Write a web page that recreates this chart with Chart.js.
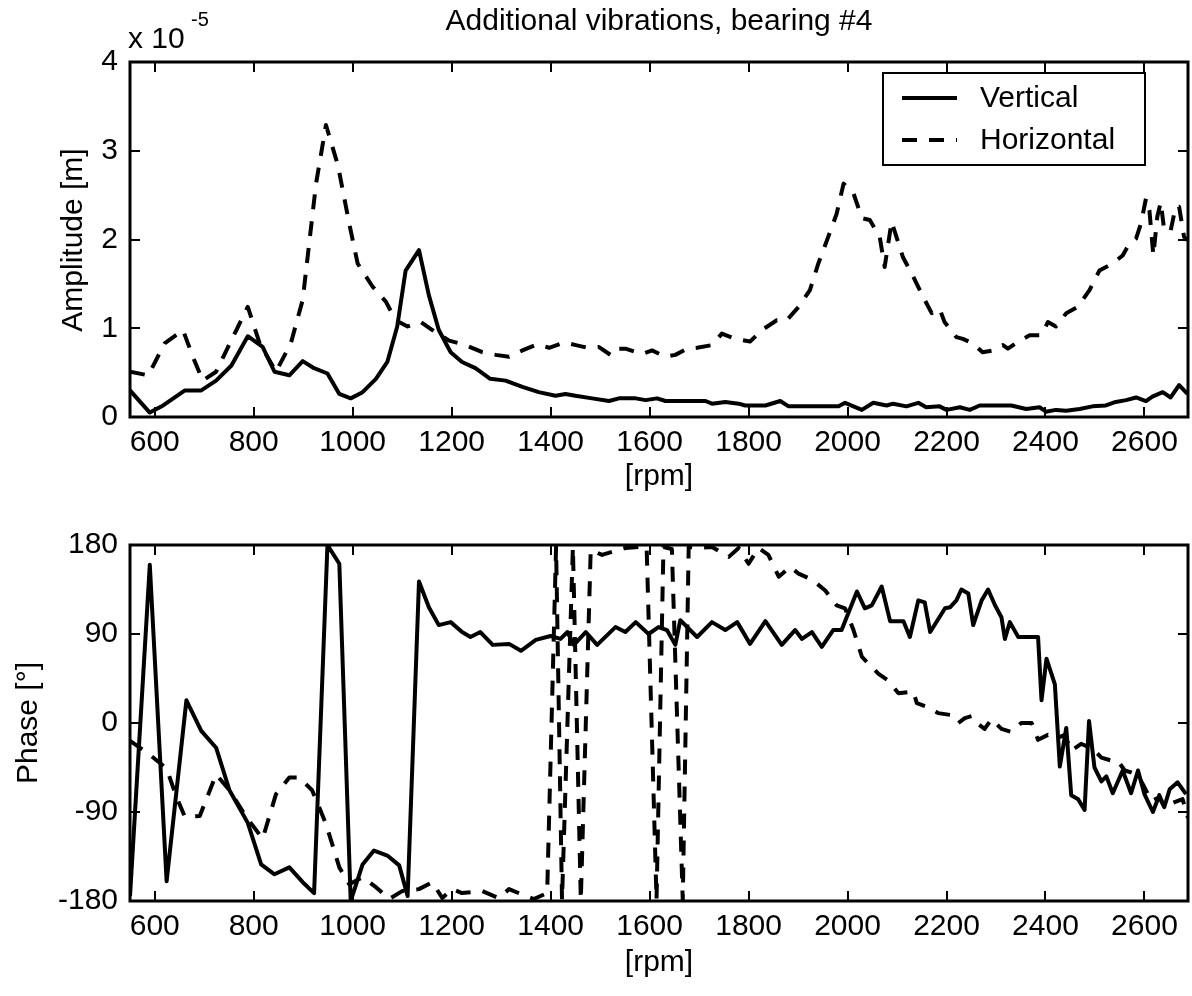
<!DOCTYPE html>
<html>
<head>
<title>Additional vibrations, bearing #4</title>
<script src="https://cdn.jsdelivr.net/npm/chart.js"></script>
<style>
  body { margin: 0; background: #fff; }
  canvas { position: absolute; left: 0; }
</style>
</head>
<body>
<canvas id="ampChart" width="1192" height="498" style="top:0"></canvas>
<canvas id="phaseChart" width="1192" height="498" style="top:498px"></canvas>
<script>
// axis ticks
const rpmTicks = [600, 800, 1000, 1200, 1400, 1600, 1800, 2000, 2200, 2400, 2600];
const ampTicks = [0, 1, 2, 3, 4];            // x 10^-5 m
const phaseTicks = [-180, -90, 0, 90, 180];

// amplitude, vertical (x 10^-5 m)
const vRpmTop = [550,590,617,661,694,724,755,788,818,842,
  872,899,922,949,973,996,1020,1047,1070,1090,
  1107,1134,1154,1174,1198,1221,1248,1278,1309,1343,
  1376,1410,1430,1450,1484,1518,1538,1572,1592,1615,
  1632,1659,1713,1726,1753,1780,1793,1834,1864,1881,
  1982,1995,2029,2052,2079,2092,2119,2143,2159,2186,
  2200,2227,2247,2267,2294,2331,2361,2388,2401,2421,
  2442,2469,2495,2522,2542,2563,2583,2603,2616,2637,
  2653,2670,2687];
const vAmp = [0.30,0.05,0.13,0.30,0.30,0.41,0.58,0.91,0.79,0.51,
  0.47,0.63,0.55,0.49,0.26,0.21,0.28,0.43,0.62,1.02,
  1.65,1.88,1.37,0.98,0.73,0.62,0.55,0.43,0.41,0.34,
  0.28,0.24,0.26,0.24,0.21,0.18,0.21,0.21,0.19,0.21,
  0.18,0.18,0.18,0.15,0.17,0.15,0.13,0.13,0.18,0.12,
  0.12,0.16,0.08,0.16,0.13,0.15,0.12,0.16,0.11,0.12,
  0.08,0.11,0.08,0.13,0.13,0.13,0.09,0.11,0.06,0.08,
  0.07,0.09,0.12,0.13,0.17,0.19,0.22,0.18,0.23,0.28,
  0.22,0.36,0.26];

// amplitude, horizontal
const hRpmTop = [550,587,620,657,677,697,724,765,788,812,
  845,875,899,926,946,970,993,1010,1040,1067,
  1087,1111,1138,1161,1195,1228,1262,1289,1316,1343,
  1373,1397,1427,1451,1474,1497,1521,1531,1551,1585,
  1605,1632,1652,1676,1696,1726,1746,1773,1803,1827,
  1857,1877,1901,1924,1941,1961,1978,1992,2012,2029,
  2045,2065,2075,2089,2112,2133,2153,2170,2186,2196,
  2220,2233,2253,2273,2294,2314,2324,2348,2368,2391,
  2405,2421,2442,2465,2489,2509,2536,2556,2566,2583,
  2593,2603,2610,2618,2626,2633,2640,2653,2663,2670,
  2680,2687];
const hAmp = [0.51,0.47,0.83,0.98,0.68,0.41,0.51,0.98,1.24,0.83,
  0.51,0.83,1.32,2.63,3.29,2.84,2.18,1.73,1.47,1.30,
  1.09,1.02,1.07,0.98,0.86,0.81,0.73,0.70,0.68,0.75,
  0.82,0.78,0.84,0.81,0.78,0.79,0.70,0.77,0.77,0.71,
  0.75,0.68,0.70,0.77,0.78,0.81,0.94,0.88,0.85,0.98,
  1.09,1.09,1.24,1.43,1.73,2.03,2.29,2.63,2.52,2.24,
  2.22,2.03,1.69,2.20,1.80,1.58,1.35,1.17,1.22,1.07,
  0.90,0.88,0.83,0.73,0.75,0.81,0.77,0.86,0.92,0.92,
  1.07,1.02,1.17,1.24,1.43,1.65,1.73,1.82,1.92,2.01,
  2.18,2.46,2.33,1.82,2.26,2.42,2.10,2.10,2.37,2.37,
  2.03,1.99];

// phase, vertical (deg)
const vRpmBot = [550,590,624,664,694,724,751,788,815,842,
  872,899,922,949,973,996,1020,1043,1070,1094,
  1111,1134,1154,1174,1198,1221,1238,1258,1283,1316,
  1340,1370,1400,1420,1434,1447,1471,1494,1531,1551,
  1572,1598,1618,1635,1652,1662,1696,1726,1753,1777,
  1803,1834,1867,1894,1908,1928,1948,1971,1988,2019,
  2035,2049,2069,2086,2113,2126,2143,2156,2167,2197,
  2207,2220,2230,2244,2254,2271,2284,2298,2311,2318,
  2328,2345,2385,2392,2402,2419,2429,2442,2452,2466,
  2479,2488,2499,2513,2523,2536,2556,2573,2587,2600,
  2617,2630,2640,2651,2667,2684];
const vPhase = [-175,160,-160,23,-8,-25,-68,-101,-143,-153,
  -146,-161,-172,180,161,-180,-143,-129,-134,-144,
  -175,143,117,99,102,92,87,92,79,80,
  73,84,88,85,92,79,92,79,97,92,
  102,90,97,94,79,104,87,102,94,102,
  80,103,79,94,85,92,77,94,94,133,
  116,119,138,103,103,87,124,122,92,116,
  117,124,135,131,99,124,135,119,107,85,
  102,87,87,23,65,39,-44,-5,-73,-77,
  -88,2,-45,-59,-54,-71,-48,-71,-48,-72,
  -90,-73,-85,-67,-60,-72];

// phase, horizontal
const hRpmBot = [550,587,624,644,661,691,724,751,785,818,
  845,872,892,918,946,973,993,1020,1047,1074,
  1100,1134,1161,1181,1201,1221,1262,1295,1316,1340,
  1366,1393,1411,1423,1445,1461,1481,1504,1524,1551,
  1578,1594,1614,1628,1645,1667,1679,1699,1726,1760,
  1780,1800,1820,1840,1861,1884,1901,1928,1955,1978,
  1995,2012,2029,2042,2062,2082,2103,2133,2140,2163,
  2183,2210,2224,2237,2251,2261,2277,2291,2311,2331,
  2351,2372,2385,2405,2425,2439,2452,2472,2486,2499,
  2513,2533,2546,2560,2573,2587,2600,2614,2630,2640,
  2661,2677,2688];
const hPhase = [-18,-31,-46,-75,-95,-94,-52,-68,-95,-117,
  -72,-55,-55,-68,-102,-146,-163,-156,-166,-178,
  -170,-168,-161,-177,-168,-172,-170,-177,-168,-173,
  -178,-172,178,-179,178,-179,175,170,173,177,
  178,178,-179,178,176,-179,178,177,178,168,
  177,161,177,170,148,158,151,145,134,119,
  116,94,67,60,50,43,30,32,20,16,
  10,8,0,5,7,0,-6,4,-6,-9,
  0,0,-17,-12,-15,-12,-28,-21,-24,-28,
  -35,-38,-38,-48,-50,-53,-65,-79,-75,-85,
  -80,-77,-96];

const FONT = "Arial, 'Liberation Sans', Helvetica, sans-serif";
const DASH = [15, 12];

function pts(xs, ys) {
  return xs.map((x, i) => ({ x: x, y: ys[i] }));
}

function lineSet(label, xs, ys, dashed) {
  return {
    label: label,
    data: pts(xs, ys),
    borderColor: '#000',
    borderWidth: 4,
    borderDash: dashed ? DASH : [],
    borderJoinStyle: 'round',
    pointRadius: 0,
    tension: 0,
    fill: false
  };
}

// box, inward ticks, labels, legend (matlab look)
const frame = {
  id: 'frame',
  afterDraw(chart, args, opts) {
    const ctx = chart.ctx, a = chart.chartArea;
    const xs = chart.scales.x, ys = chart.scales.y;
    ctx.save();
    ctx.strokeStyle = '#000';
    ctx.lineWidth = 2;
    ctx.beginPath();
    xs.ticks.forEach(t => {
      const px = Math.round(xs.getPixelForValue(t.value));
      ctx.moveTo(px, a.bottom); ctx.lineTo(px, a.bottom - 10);
      ctx.moveTo(px, a.top); ctx.lineTo(px, a.top + 10);
    });
    ys.ticks.forEach(t => {
      const py = Math.round(ys.getPixelForValue(t.value));
      ctx.moveTo(a.left, py); ctx.lineTo(a.left + 10, py);
      ctx.moveTo(a.right, py); ctx.lineTo(a.right - 10, py);
    });
    ctx.stroke();
    ctx.lineWidth = 3;
    ctx.strokeRect(a.left, a.top, a.right - a.left, a.bottom - a.top);

    ctx.fillStyle = '#000';
    (opts.texts || []).forEach(t => {
      ctx.save();
      ctx.font = (t.size || 30) + 'px ' + FONT;
      ctx.textAlign = t.align || 'center';
      ctx.textBaseline = t.base || 'middle';
      ctx.translate(t.x, t.y);
      if (t.rot) ctx.rotate(t.rot);
      ctx.fillText(t.text, 0, 0);
      ctx.restore();
    });

    if (opts.legend) {
      const L = opts.legend;
      ctx.fillStyle = '#fff';
      ctx.fillRect(L.x, L.y, L.w, L.h);
      ctx.lineWidth = 2;
      ctx.strokeRect(L.x, L.y, L.w, L.h);
      chart.data.datasets.forEach((ds, i) => {
        const y = L.y + 25 + i * 42;
        ctx.beginPath();
        ctx.lineWidth = ds.borderWidth;
        ctx.setLineDash(ds.borderDash);
        ctx.moveTo(L.x + 19, y);
        ctx.lineTo(L.x + 74, y);
        ctx.stroke();
        ctx.setLineDash([]);
        ctx.fillStyle = '#000';
        ctx.font = '30px ' + FONT;
        ctx.textAlign = 'left';
        ctx.textBaseline = 'middle';
        ctx.fillText(ds.label, L.x + 97, y + 1);
      });
    }
    ctx.restore();
  }
};

function makeChart(id, datasets, yMin, yMax, yTicks, padTop, xAxisH, texts, legend) {
  return new Chart(document.getElementById(id), {
    type: 'line',
    data: { datasets: datasets },
    plugins: [frame],
    options: {
      responsive: false,
      animation: false,
      devicePixelRatio: 1,
      layout: { padding: { left: 0, right: 4, top: padTop, bottom: 0 } },
      plugins: {
        legend: { display: false },
        title: { display: false },
        tooltip: { enabled: false },
        frame: { texts: texts, legend: legend }
      },
      scales: {
        x: {
          type: 'linear',
          min: 550,
          max: 2688,
          afterBuildTicks: s => { s.ticks = rpmTicks.map(v => ({ value: v })); },
          afterFit: s => { s.height = xAxisH; },
          grid: { display: false, drawTicks: false },
          border: { display: false },
          ticks: {
            autoSkip: false, maxRotation: 0, padding: 8, color: '#000',
            font: { family: FONT, size: 30 },
            callback: v => String(v)
          }
        },
        y: {
          type: 'linear',
          min: yMin,
          max: yMax,
          afterBuildTicks: s => { s.ticks = yTicks.map(v => ({ value: v })); },
          afterFit: s => { s.width = 130; },
          grid: { display: false, drawTicks: false },
          border: { display: false },
          ticks: {
            padding: 12, color: '#000',
            font: { family: FONT, size: 30 },
            callback: v => String(v)
          }
        }
      }
    }
  });
}

makeChart('ampChart',
  [lineSet('Vertical', vRpmTop, vAmp, false), lineSet('Horizontal', hRpmTop, hAmp, true)],
  0, 4, ampTicks, 62, 81,
  [
    { text: 'Additional vibrations, bearing #4', x: 659, y: 22 },
    { text: 'x 10', x: 128, y: 48, size: 30, align: 'left', base: 'alphabetic' },
    { text: '-5', x: 191, y: 26, size: 20, align: 'left', base: 'alphabetic' },
    { text: 'Amplitude [m]', x: 74, y: 240, rot: -Math.PI / 2 },
    { text: '[rpm]', x: 659, y: 477 }
  ],
  { x: 883, y: 73, w: 262, h: 92 });

makeChart('phaseChart',
  [lineSet('Vertical', vRpmBot, vPhase, false), lineSet('Horizontal', hRpmBot, hPhase, true)],
  -180, 180, phaseTicks, 47, 95,
  [
    { text: 'Phase [°]', x: 29, y: 225, rot: -Math.PI / 2 },
    { text: '[rpm]', x: 659, y: 465 }
  ],
  null);
</script>
</body>
</html>
